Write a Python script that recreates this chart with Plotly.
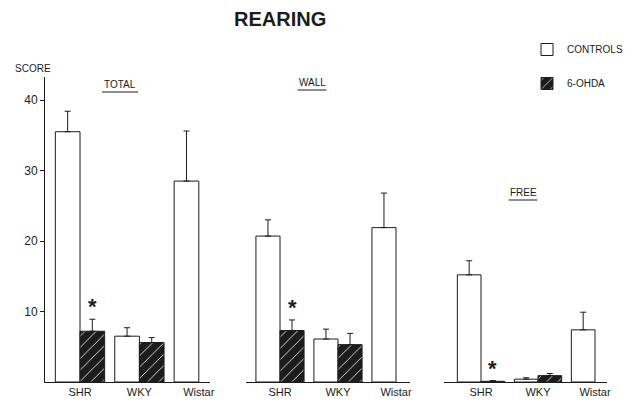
import plotly.graph_objects as go

# page offset: the browser body adds an 8px margin around the figure
OFF = 8
W, H = 633 - OFF, 402 - OFF

groups = ["SHR", "WKY", "Wistar"]
group_pos = [0, 1, 2]
panels = ["TOTAL", "WALL", "FREE"]

# mean scores and upper error-bar ends (mean + SEM)
controls_mean = {
    "TOTAL": [35.5, 6.5, 28.5],
    "WALL": [20.7, 6.1, 21.9],
    "FREE": [15.2, 0.4, 7.4],
}
controls_top = {
    "TOTAL": [38.4, 7.7, 35.6],
    "WALL": [23.0, 7.5, 26.8],
    "FREE": [17.2, 0.6, 9.9],
}
ohda_mean = {
    "TOTAL": [7.2, 5.6, None],
    "WALL": [7.3, 5.3, None],
    "FREE": [0.1, 0.9, None],
}
ohda_top = {
    "TOTAL": [8.9, 6.3, None],
    "WALL": [8.8, 6.9, None],
    "FREE": [0.2, 1.2, None],
}
y_ticks = [10, 20, 30, 40]


def px(x):
    return (x - OFF) / W


def py(y):
    return 1 - (y - OFF) / H


# layout (pixel positions in the 633x402 page)
panel_px = [(45, 210, 80, 59.4), (246, 410, 280, 58.0), (444, 607, 481, 57.0)]
y_base_px, y_top_px, px_per_unit = 382, 77, 7.05

ink = "#1c1c1c"
font_family = "Liberation Sans, Arial, sans-serif"

fig = go.Figure()

for i, p in enumerate(panels):
    xa = "x" if i == 0 else f"x{i+1}"
    ya = "y" if i == 0 else f"y{i+1}"
    cm = controls_mean[p]
    ce = [t - m for t, m in zip(controls_top[p], cm)]
    om = ohda_mean[p]
    oe = [(t - m) if (t is not None and m is not None) else None for t, m in zip(ohda_top[p], om)]
    fig.add_trace(go.Bar(
        x=group_pos, y=cm, name="CONTROLS", xaxis=xa, yaxis=ya,
        offsetgroup="c", legendgroup="c", showlegend=(i == 0),
        marker=dict(color="white", line=dict(color=ink, width=1)),
        error_y=dict(type="data", symmetric=False, array=ce, arrayminus=[0] * 3,
                     color=ink, thickness=1, width=3),
    ))
    fig.add_trace(go.Bar(
        x=group_pos, y=om, name="6-OHDA", xaxis=xa, yaxis=ya,
        offsetgroup="o", legendgroup="o", showlegend=(i == 0),
        marker=dict(color=ink, line=dict(color=ink, width=1),
                    pattern=dict(shape="/", fgcolor="white", bgcolor=ink,
                                 size=8, solidity=0.1, fillmode="replace")),
        error_y=dict(type="data", symmetric=False, array=oe, arrayminus=[0] * 3,
                     color=ink, thickness=1, width=3),
    ))

layout = dict(
    width=W, height=H,
    margin=dict(l=0, r=0, t=0, b=0),
    paper_bgcolor="white", plot_bgcolor="white",
    barmode="group", bargap=0.17, bargroupgap=0,
    font=dict(family=font_family, color=ink, size=10),
    showlegend=True,
    legend=dict(x=px(527), y=py(35), xanchor="left", yanchor="top",
                font=dict(size=10, color=ink), tracegroupgap=15,
                itemwidth=30, bgcolor="rgba(0,0,0,0)"),
)

ydom = [py(y_base_px), py(y_top_px)]
yrange = [0, (y_base_px - y_top_px) / px_per_unit]

for i, (x0, x1, c0, s) in enumerate(panel_px):
    key = "xaxis" if i == 0 else f"xaxis{i+1}"
    ykey = "yaxis" if i == 0 else f"yaxis{i+1}"
    layout[key] = dict(
        domain=[px(x0), px(x1)],
        range=[(x0 - c0) / s, (x1 - c0) / s],
        anchor="y" if i == 0 else f"y{i+1}",
        tickmode="array", tickvals=group_pos, ticktext=groups,
        ticks="", showgrid=False, zeroline=False,
        showline=True, linecolor=ink, linewidth=1,
        tickfont=dict(size=11, color=ink), automargin=False,
    )
    layout[ykey] = dict(
        domain=ydom, range=yrange,
        anchor="x" if i == 0 else f"x{i+1}",
        showgrid=False, zeroline=False, automargin=False,
        showline=(i == 0), linecolor=ink, linewidth=1,
        tickmode="array", tickvals=y_ticks if i == 0 else [],
        ticks="outside" if i == 0 else "", ticklen=4, tickcolor=ink,
        showticklabels=(i == 0), tickfont=dict(size=12, color=ink),
        matches=None if i == 0 else "y",
    )

fig.update_layout(**layout)

annotations = [
    dict(text="<b>REARING</b>", x=px(280), y=py(19), xref="paper", yref="paper",
         xanchor="center", yanchor="middle",
         showarrow=False, font=dict(size=20, color=ink)),
    dict(text="SCORE", x=px(33), y=py(69), xref="paper", yref="paper",
         xanchor="center", yanchor="middle",
         showarrow=False, font=dict(size=10, color=ink)),
]
title_pos = [(120, 84), (312, 82), (523, 192)]
shapes = []
for (tx, ty), p in zip(title_pos, panels):
    annotations.append(dict(text=p, x=px(tx), y=py(ty), xref="paper", yref="paper",
                            xanchor="center", yanchor="middle",
                            showarrow=False, font=dict(size=10, color=ink)))
    half = len(p) * 3.6
    shapes.append(dict(type="line", xref="paper", yref="paper",
                       x0=px(tx - half), x1=px(tx + half),
                       y0=py(ty + 8), y1=py(ty + 8),
                       line=dict(color=ink, width=1)))

# significance asterisks above SHR 6-OHDA bars
for i, p in enumerate(panels):
    xa = "x" if i == 0 else f"x{i+1}"
    ya = "y" if i == 0 else f"y{i+1}"
    annotations.append(dict(text="<b>*</b>", x=0.21, y=ohda_top[p][0], xref=xa, yref=ya,
                            xanchor="center", yanchor="bottom", yshift=-2, showarrow=False,
                            font=dict(size=22, color=ink)))

fig.update_layout(annotations=annotations, shapes=shapes)
fig.write_html("out.html")
